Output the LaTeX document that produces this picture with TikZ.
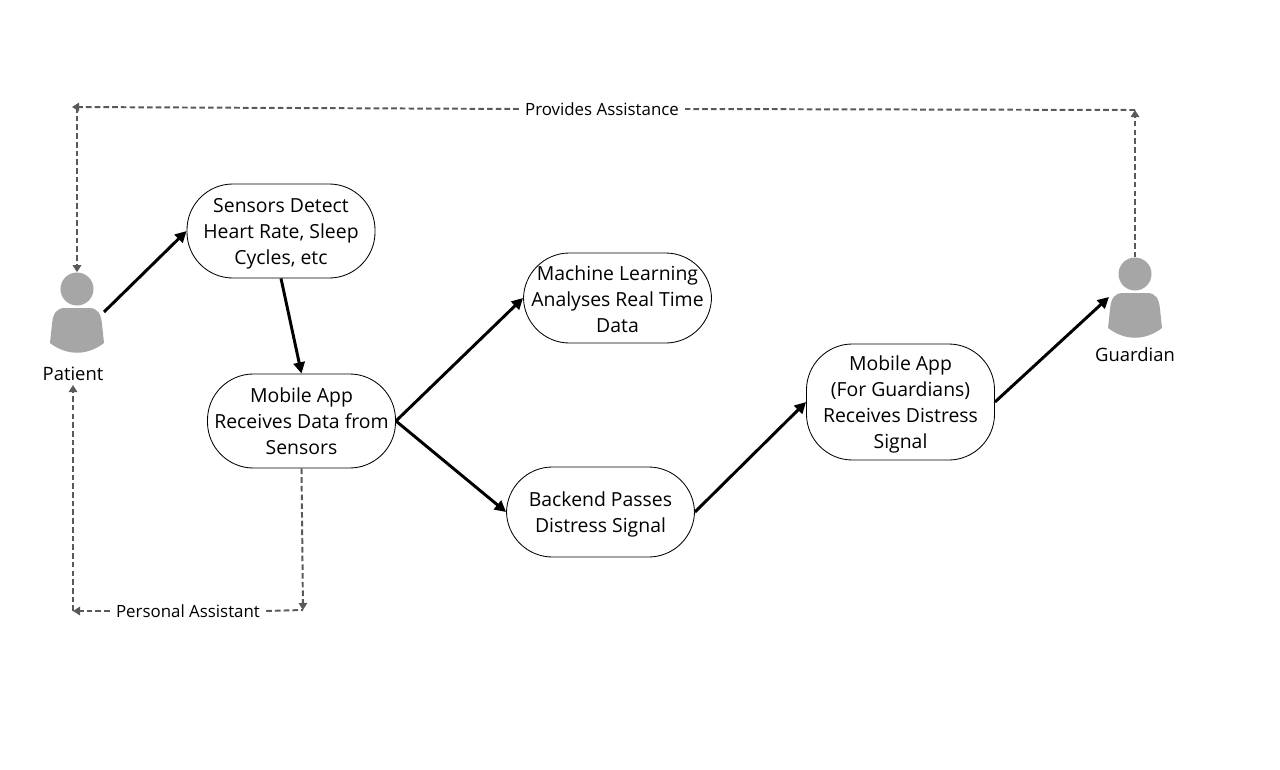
\documentclass[tikz,border=0pt]{standalone}
\usepackage{fontspec}
\setmainfont{Open Sans}
\usepackage{xcolor}
\usetikzlibrary{arrows.meta,positioning}
\definecolor{persongray}{HTML}{A6A6A6}
\definecolor{dashgray}{HTML}{595959}
\newcommand{\topfill}[1]{\rule{0pt}{#1}}

\begin{document}
\begin{tikzpicture}[
  x=0.025cm, y=-0.025cm,
  stepbox/.style={draw, line width=0.6pt, rounded corners=1.15cm, minimum width=4.7cm, align=center, font=\fontsize{13.8}{18.5}\selectfont, inner sep=0pt},
  lab/.style={font=\fontsize{12}{14}\selectfont, inner sep=0pt, align=center},
  who/.style={font=\fontsize{13.1}{15}\selectfont, inner sep=0pt, align=center},
  flow/.style={line width=2.1pt, -{Triangle[length=8pt,width=8pt]}},
  help/.style={line width=1.4pt, dashgray, dash pattern=on 4pt off 2.2pt, -{Triangle[length=5pt,width=6pt]}},
  plain/.style={line width=1.4pt, dashgray, dash pattern=on 4pt off 2.2pt},
  person/.pic={
    \node[circle, fill=persongray, minimum size=0.825cm, inner sep=0pt] (-head) at (0,-32) {};
    \fill[persongray] (-12,-13) -- (12,-13) .. controls (21,-13) and (24,-7) .. (25,3)
      -- (27,22) .. controls (10,35) and (-10,35) .. (-27,22) -- (-25,3)
      .. controls (-24,-7) and (-21,-13) .. (-12,-13) -- cycle;
  }
]
\useasboundingbox (0,0) rectangle (1280,769);

\pic (patient) at (77,321) {person};
\pic (guardian) at (1135,306) {person};
\node[who] (patientlab) at (73,374) {Patient};
\node[who] (guardianlab) at (1135,355) {Guardian};

\node[stepbox, minimum height=2.35cm] (sensors) at (281,231) {\topfill{14pt}Sensors Detect\\Heart Rate, Sleep\\Cycles, etc};
\node[stepbox, minimum height=2.35cm] (mobile) at (301.5,421) {Mobile App\\Receives Data from\\Sensors};
\node[stepbox, minimum height=2.25cm] (ml) at (617.5,298) {\topfill{12pt}Machine Learning\\Analyses Real Time\\Data};
\node[stepbox, minimum height=2.25cm] (backend) at (600.5,512) {\topfill{14pt}Backend Passes\\Distress Signal};
\node[stepbox, minimum height=2.9cm] (gapp) at (900.5,402) {\topfill{14pt}Mobile App\\(For Guardians)\\Receives Distress\\Signal};

\node[lab] (provides) at (602,109) {Provides Assistance};
\node[lab] (personal) at (188,611) {Personal Assistant};

\coordinate (patientout) at (104,312);
\coordinate (guardianin) at (1109,297);
\coordinate (topleft) at (72,107);
\coordinate (topdown) at (77,107);
\coordinate (topright) at (1135,110);
\coordinate (botleft) at (73,611);
\coordinate (botup) at (73,385);
\coordinate (botright) at (303,610);

\draw[flow] (patientout) -- (sensors.west);
\draw[flow] (sensors.south) -- (mobile.north);
\draw[flow] (mobile.east) -- (ml.west);
\draw[flow] (mobile.east) -- (backend.west);
\draw[flow] (backend.east) -- (gapp.west);
\draw[flow] (gapp.east) -- (guardianin);

\draw[help] (guardian-head.north) -- (topright);
\draw[plain] (topright) -- ([xshift=0.15cm]provides.east);
\draw[help] ([xshift=-0.15cm]provides.west) -- (topleft);
\draw[help] (topdown) -- (patient-head.north);

\draw[help] (botleft) -- (botup);
\draw[help] ([xshift=-0.15cm]personal.west) -- (botleft);
\draw[help] (mobile.south) -- (botright);
\draw[plain] ([xshift=0.15cm]personal.east) -- (botright);
\end{tikzpicture}
\end{document}
